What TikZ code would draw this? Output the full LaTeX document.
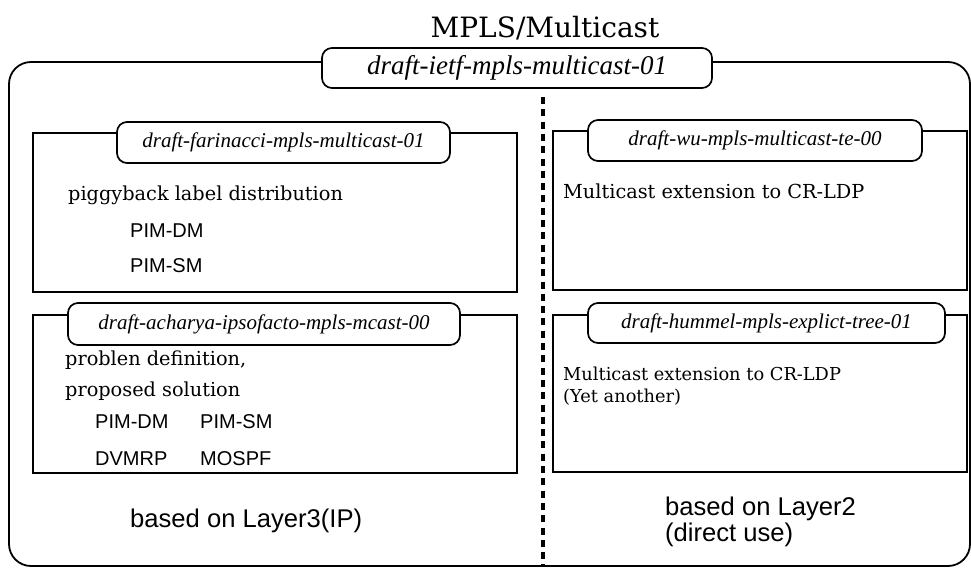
\documentclass[tikz,border=0pt]{standalone}
\usepackage{fontspec}
\setmainfont{DejaVu Serif}
\setsansfont{Liberation Sans}
\newfontfamily\draftfont{Liberation Serif}
\begin{document}
\begin{tikzpicture}[x=1pt,y=-1pt,
  frame/.style={draw, line width=1.8pt, rounded corners=22pt},
  docbox/.style={draw, line width=1.7pt, fill=white, inner sep=0pt},
  tab/.style={draw, line width=1.7pt, fill=white, rounded corners=10pt, inner sep=0pt,
    font=\draftfont\itshape\fontsize{21}{24}\selectfont, text height=14pt, text depth=4pt},
  body/.style={anchor=base west, inner sep=0pt, font=\fontsize{19.3}{23}\selectfont},
  smallbody/.style={anchor=base west, inner sep=0pt, font=\fontsize{17.8}{21}\selectfont},
  proto/.style={anchor=base west, inner sep=0pt, font=\sffamily\fontsize{20}{24}\selectfont},
  layer/.style={anchor=base west, inner sep=0pt, font=\sffamily\fontsize{25.6}{30}\selectfont},
  divider/.style={line width=3.3pt, dash pattern=on 7pt off 5.3pt}
]
\useasboundingbox (0,0) rectangle (971,568);

% title and outer frame with its tab
\node[anchor=base, inner sep=0pt, font=\fontsize{28}{32}\selectfont] (title) at (545,37) {MPLS/Multicast};
\draw[frame] (9,62) rectangle (970,566);
\node[tab, minimum width=390pt, minimum height=40pt,
  font=\draftfont\itshape\fontsize{27}{30}\selectfont, text height=18pt, text depth=5pt]
  (ietf) at (517,68) {draft-ietf-mpls-multicast-01};

% dotted divider between the two halves
\coordinate (divtop) at (543,97);
\coordinate (divbot) at (543,566);
\draw[divider] (divtop) -- (divbot);

% left half: layer 3 drafts
\node[docbox, minimum width=484pt, minimum height=159pt] (farbox) at (275,212.5) {};
\node[tab, minimum width=333pt, minimum height=41pt] (fartab) at (283.5,142.5) {draft-farinacci-mpls-multicast-01};
\node[body] (piggy) at (68,200) {piggyback label distribution};
\node[proto] (fardm) at (130,237) {PIM-DM};
\node[proto] (farsm) at (130,272) {PIM-SM};

\node[docbox, minimum width=484pt, minimum height=158pt] (achbox) at (275,394) {};
\node[tab, minimum width=392pt, minimum height=42pt] (achtab) at (264,324) {draft-acharya-ipsofacto-mpls-mcast-00};
\node[body] (probdef) at (65,365) {problen definition,};
\node[body] (propsol) at (65,396) {proposed solution};
\node[proto] (achdm) at (95,428) {PIM-DM};
\node[proto] (achsm) at (200,428) {PIM-SM};
\node[proto] (achdv) at (95,465) {DVMRP};
\node[proto] (achmo) at (200,465) {MOSPF};

\node[layer] (l3) at (130,527) {based on Layer3(IP)};

% right half: layer 2 drafts
\node[docbox, minimum width=414pt, minimum height=159pt] (wubox) at (760,210.5) {};
\node[tab, minimum width=334pt, minimum height=41pt] (wutab) at (755,140.5) {draft-wu-mpls-multicast-te-00};
\node[body] (wutext) at (563,198) {Multicast extension to CR-LDP};

\node[docbox, minimum width=414pt, minimum height=157pt] (humbox) at (760,393.5) {};
\node[tab, minimum width=357pt, minimum height=40pt] (humtab) at (766.5,323) {draft-hummel-mpls-explict-tree-01};
\node[smallbody] (humtext) at (563,380) {Multicast extension to CR-LDP};
\node[smallbody] (humnote) at (563,402) {(Yet another)};

\node[layer] (l2a) at (665,515) {based on Layer2};
\node[layer] (l2b) at (665,541) {(direct use)};
\end{tikzpicture}
\end{document}
